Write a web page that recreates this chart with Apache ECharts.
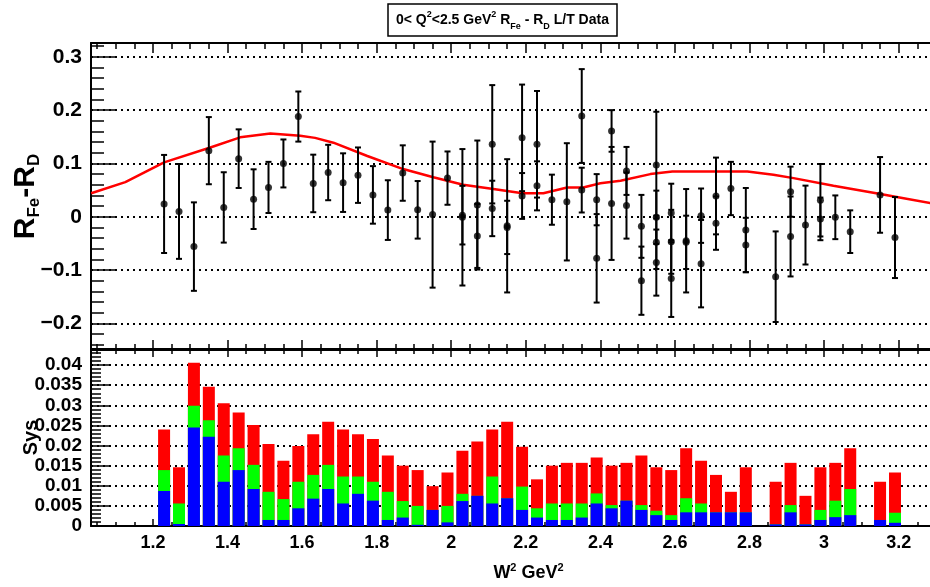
<!DOCTYPE html>
<html><head><meta charset="utf-8">
<script src="https://cdn.jsdelivr.net/npm/echarts@6/dist/echarts.min.js"></script>
<style>html,body{margin:0;padding:0;background:#fff}#c{width:930px;height:587px}</style>
</head><body><div id="c"></div>
<script>
// ---------- data ----------
const binW2 = [1.23,1.27,1.31,1.35,1.39,1.43,1.47,1.51,1.55,1.59,1.63,1.67,1.71,1.75,1.79,1.83,1.87,1.91,1.95,1.99,2.03,2.07,2.11,2.15,2.19,2.23,2.27,2.31,2.35,2.39,2.43,2.47,2.51,2.55,2.59,2.63,2.67,2.71,2.75,2.79,2.87,2.91,2.95,2.99,3.03,3.07,3.15,3.19];
const sysRed = [0.024,0.0146,0.0406,0.0346,0.0305,0.0282,0.0251,0.0204,0.0162,0.0199,0.0228,0.0259,0.024,0.0228,0.0216,0.0175,0.015,0.0139,0.0099,0.0133,0.0187,0.021,0.024,0.0259,0.0197,0.0116,0.015,0.0157,0.0157,0.017,0.015,0.0157,0.0175,0.0146,0.0139,0.0193,0.0162,0.0127,0.0085,0.0146,0.011,0.0157,0.0075,0.0146,0.0157,0.0193,0.011,0.0133];
const sysGreen = [0.0139,0.0056,0.0299,0.0263,0.0175,0.0193,0.0152,0.0085,0.0067,0.011,0.0127,0.0152,0.0123,0.0123,0.011,0.0085,0.0062,0.005,0.004,0.005,0.008,0.0075,0.0123,0.0069,0.0098,0.0044,0.0056,0.0056,0.0056,0.0081,0.0052,0.0063,0.0052,0.0038,0.0027,0.0069,0.0056,0.0034,0.0034,0.0034,0.0004,0.0052,0.0004,0.004,0.0063,0.0092,0.0015,0.0033];
const sysBlue = [0.0087,0.0005,0.0245,0.0222,0.011,0.0139,0.0092,0.0015,0.0015,0.0044,0.0068,0.0092,0.0056,0.008,0.0063,0.0015,0.0021,0.0003,0.004,0.0009,0.0062,0.0075,0.0056,0.0069,0.004,0.0021,0.0015,0.0015,0.0021,0.0056,0.0044,0.0063,0.004,0.0027,0.0015,0.0034,0.0034,0.0034,0.0034,0.0034,0.0004,0.0034,0.0004,0.0015,0.0022,0.0027,0.0015,0.0008];

const ptW2 = [1.23,1.27,1.31,1.35,1.39,1.43,1.47,1.51,1.55,1.59,1.63,1.67,1.71,1.75,1.79,1.83,1.87,1.91,1.95,1.99,
  2.03,2.03,2.07,2.07,2.11,2.11,2.15,2.15,2.19,2.19,2.23,2.23,2.27,2.31,2.35,2.35,2.39,2.39,2.43,2.43,2.47,2.47,2.51,2.51,
  2.55,2.55,2.55,2.55,2.59,2.59,2.59,2.63,2.63,2.67,2.67,2.71,2.71,2.75,2.79,2.79,2.87,2.91,2.91,2.95,2.99,2.99,3.03,3.07,3.15,3.19];
const ptVal = [0.024,0.010,-0.056,0.124,0.0175,0.109,0.033,0.055,0.100,0.188,0.0625,0.083,0.064,0.078,0.041,0.0125,0.082,0.013,0.004,0.0725,
  -0.001,0.003,0.022,-0.036,0.136,0.0156,-0.017,-0.02,0.148,0.039,0.136,0.058,0.032,0.028,0.189,0.050,0.032,-0.078,0.161,0.025,0.086,0.021,-0.018,-0.120,
  0.097,-0.001,-0.048,-0.086,0.007,-0.047,-0.116,-0.045,-0.048,0.002,-0.088,0.039,-0.012,0.053,-0.025,-0.053,-0.1125,0.047,-0.037,-0.0156,0.031,-0.004,-0.001,-0.028,0.041,-0.039];
const ptErr = [0.092,0.089,0.083,0.063,0.066,0.055,0.056,0.048,0.045,0.047,0.054,0.052,0.055,0.052,0.054,0.056,0.052,0.054,0.137,0.050,
  0.128,0.055,0.121,0.060,0.111,0.052,0.125,0.050,0.100,0.043,0.100,0.046,0.047,0.110,0.088,0.042,0.048,0.083,0.039,0.106,0.045,0.062,0.059,0.064,
  0.100,0.050,0.050,0.062,0.055,0.060,0.072,0.097,0.050,0.051,0.082,0.072,0.050,0.050,0.079,0.051,0.085,0.047,0.075,0.074,0.068,0.040,0.041,0.040,0.071,0.076];

const fitW2 = [1.0345,1.126,1.23,1.354,1.434,1.515,1.595,1.635,1.684,1.775,1.871,1.952,2.032,2.113,2.191,2.247,2.311,2.354,2.4,2.454,2.534,2.593,2.794,2.864,2.918,3.025,3.151,3.191,3.285];
const fitVal = [0.044,0.065,0.102,0.130,0.149,0.156,0.152,0.148,0.139,0.114,0.0895,0.074,0.060,0.052,0.044,0.044,0.055,0.055,0.063,0.0675,0.080,0.085,0.085,0.079,0.0725,0.058,0.0425,0.0375,0.0257];

const xTickLabels = [1.2,1.4,1.6,1.8,2.0,2.2,2.4,2.6,2.8,3.0,3.2];
const xMinorTicks = [1.05,1.1,1.15,1.25,1.3,1.35,1.45,1.5,1.55,1.65,1.7,1.75,1.85,1.9,1.95,2.05,2.1,2.15,2.25,2.3,2.35,2.45,2.5,2.55,2.65,2.7,2.75,2.85,2.9,2.95,3.05,3.1,3.15,3.25];
const topYTicks = [-0.2,-0.1,0,0.1,0.2,0.3];
const topYMinor = [-0.24,-0.22,-0.18,-0.16,-0.14,-0.12,-0.08,-0.06,-0.04,-0.02,0.02,0.04,0.06,0.08,0.12,0.14,0.16,0.18,0.22,0.24,0.26,0.28,0.32];
const sysYTicks = [0,0.005,0.01,0.015,0.02,0.025,0.03,0.035,0.04];
const sysYMinor = [0.001,0.002,0.003,0.004,0.006,0.007,0.008,0.009,0.011,0.012,0.013,0.014,0.016,0.017,0.018,0.019,0.021,0.022,0.023,0.024,0.026,0.027,0.028,0.029,0.031,0.032,0.033,0.034,0.036,0.037,0.038,0.039,0.041,0.042,0.043];

// ---------- layout ----------
const FONT = 'Liberation Sans';
const X_MIN = 1.034, X_MAX = 3.3;
const GRID_LEFT = 91, GRID_W = 845;
const NO_LINE = {axisLine: {show: false, onZero: false}};

function xAxisDef(gridIndex, position, ticks, tickLen, extra) {
  return Object.assign({
    type: 'value', gridIndex: gridIndex, position: position, min: X_MIN, max: X_MAX,
    axisLine: {show: true, onZero: false, lineStyle: {color: '#000', width: 2}},
    axisTick: {show: true, inside: true, length: tickLen, customValues: ticks, lineStyle: {color: '#000', width: 1.5}},
    axisLabel: {show: false},
    splitLine: {show: false},
    axisPointer: {show: false}
  }, extra || {});
}
function yAxisDef(gridIndex, min, max, ticks, tickLen, extra) {
  return Object.assign({
    type: 'value', gridIndex: gridIndex, position: 'left', min: min, max: max,
    axisLine: {show: true, onZero: false, lineStyle: {color: '#000', width: 2}},
    axisTick: {show: true, inside: true, length: tickLen, customValues: ticks, lineStyle: {color: '#000', width: 1.5}},
    axisLabel: {show: false},
    splitLine: {show: false},
    axisPointer: {show: false}
  }, extra || {});
}
const dotted = {show: true, lineStyle: {color: '#000', width: 1.8, type: [2, 4]}};

const chart = echarts.init(document.getElementById('c'), null, {renderer: 'canvas'});
const option = {
  animation: false,
  backgroundColor: '#fff',
  title: {
    text: '0< Q{sup|2}<2.5 GeV{sup|2} R{sub|Fe} - R{sub|D} L/T Data',
    left: 388, top: 4,
    borderColor: '#000', borderWidth: 1.5,
    padding: [6, 8, 5, 8],
    textStyle: {
      fontFamily: FONT, fontWeight: 'bold', fontSize: 14, color: '#000', lineHeight: 21,
      rich: {
        sup: {fontFamily: FONT, fontWeight: 'bold', fontSize: 9, verticalAlign: 'top', lineHeight: 10},
        sub: {fontFamily: FONT, fontWeight: 'bold', fontSize: 9, verticalAlign: 'bottom', lineHeight: 10}
      }
    }
  },
  grid: [
    {left: GRID_LEFT, top: 43, width: GRID_W, height: 307, outerBoundsMode: 'none'},
    {left: GRID_LEFT, top: 349, width: GRID_W, height: 177, outerBoundsMode: 'none'}
  ],
  xAxis: [
    xAxisDef(0, 'bottom', xTickLabels, 10),
    xAxisDef(0, 'bottom', xMinorTicks, 6, NO_LINE),
    xAxisDef(0, 'top', xTickLabels, 10),
    xAxisDef(0, 'top', xMinorTicks, 6, NO_LINE),
    xAxisDef(1, 'bottom', xTickLabels, 7, {
      axisLabel: {show: true, customValues: xTickLabels, margin: 8, color: '#000',
        fontFamily: FONT, fontWeight: 'bold', fontSize: 18,
        formatter: v => String(Math.round(v * 10) / 10)},
      name: 'W{sup|2} GeV{sup|2}', nameLocation: 'middle', nameGap: 36, nameMoveOverlap: false,
      nameTextStyle: {fontFamily: FONT, fontWeight: 'bold', fontSize: 18, color: '#000', padding: [0, 0, 0, 30], lineHeight: 22,
        rich: {sup: {fontFamily: FONT, fontWeight: 'bold', fontSize: 11, verticalAlign: 'top', lineHeight: 12}}}
    }),
    xAxisDef(1, 'bottom', xMinorTicks, 4, NO_LINE),
    xAxisDef(1, 'top', xTickLabels, 8),
    xAxisDef(1, 'top', xMinorTicks, 5, NO_LINE)
  ],
  yAxis: [
    yAxisDef(0, -0.25, 0.326, topYTicks, 26, {
      axisLabel: {show: true, customValues: topYTicks, margin: 9, color: '#000',
        fontFamily: FONT, fontWeight: 'bold', fontSize: 21,
        formatter: v => (v < 0 ? '\u2212' : '') + String(Math.abs(Math.round(v * 10) / 10))},
      splitLine: dotted,
      name: '{b|R}{s|Fe}{b|-R}{s|D}', nameLocation: 'middle', nameRotate: 90, nameGap: 48, nameMoveOverlap: false,
      nameTextStyle: {fontFamily: FONT, fontWeight: 'bold', fontSize: 30, color: '#000', lineHeight: 34,
        rich: {
          b: {fontFamily: FONT, fontWeight: 'bold', fontSize: 30, lineHeight: 34},
          s: {fontFamily: FONT, fontWeight: 'bold', fontSize: 17, verticalAlign: 'bottom', lineHeight: 18}
        }}
    }),
    yAxisDef(0, -0.25, 0.326, topYMinor, 13, NO_LINE),
    yAxisDef(1, 0, 0.044, sysYTicks, 20, {
      axisLabel: {show: true, customValues: sysYTicks, margin: 9, color: '#000',
        fontFamily: FONT, fontWeight: 'bold', fontSize: 19,
        formatter: v => String(Math.round(v * 1000) / 1000)},
      splitLine: dotted,
      name: 'Sys', nameLocation: 'middle', nameRotate: 90, nameGap: 50, nameMoveOverlap: false,
      nameTextStyle: {fontFamily: FONT, fontWeight: 'bold', fontSize: 20, color: '#000'}
    }),
    yAxisDef(1, 0, 0.044, sysYMinor, 10, NO_LINE)
  ],
  series: [
    {
      type: 'bar', xAxisIndex: 4, yAxisIndex: 2, barWidth: 12, barGap: '-100%',
      itemStyle: {color: '#ff0000'}, z: 3,
      data: binW2.map((x, i) => [x, sysRed[i]])
    },
    {
      type: 'bar', xAxisIndex: 4, yAxisIndex: 2, barWidth: 12, barGap: '-100%',
      itemStyle: {color: '#00ff00'}, z: 4,
      data: binW2.map((x, i) => [x, sysGreen[i]])
    },
    {
      type: 'bar', xAxisIndex: 4, yAxisIndex: 2, barWidth: 12, barGap: '-100%',
      itemStyle: {color: '#0000ff'}, z: 5,
      data: binW2.map((x, i) => [x, sysBlue[i]])
    },
    {
      type: 'line', xAxisIndex: 0, yAxisIndex: 0, showSymbol: false, symbol: 'none',
      lineStyle: {color: '#ff0000', width: 2.5}, z: 3, clip: true,
      data: fitW2.map((x, i) => [x, fitVal[i]])
    },
    {
      type: 'custom', xAxisIndex: 0, yAxisIndex: 0, z: 4, clip: true,
      encode: {x: 0, y: 1},
      data: ptW2.map((x, i) => [x, ptVal[i], ptErr[i]]),
      renderItem: function (params, api) {
        const x = api.value(0), y = api.value(1), e = api.value(2);
        const t = api.coord([x, y + e]);
        const b = api.coord([x, y - e]);
        const c = 3;
        const st = {stroke: '#000', lineWidth: 2};
        return {type: 'group', children: [
          {type: 'line', shape: {x1: t[0], y1: t[1], x2: b[0], y2: b[1]}, style: st},
          {type: 'line', shape: {x1: t[0] - c, y1: t[1], x2: t[0] + c, y2: t[1]}, style: st},
          {type: 'line', shape: {x1: b[0] - c, y1: b[1], x2: b[0] + c, y2: b[1]}, style: st}
        ]};
      }
    },
    {
      type: 'scatter', xAxisIndex: 0, yAxisIndex: 0, z: 5, symbol: 'circle', symbolSize: 7,
      itemStyle: {color: '#000'},
      data: ptW2.map((x, i) => [x, ptVal[i]])
    }
  ]
};
chart.setOption(option);
</script>
</body></html>
